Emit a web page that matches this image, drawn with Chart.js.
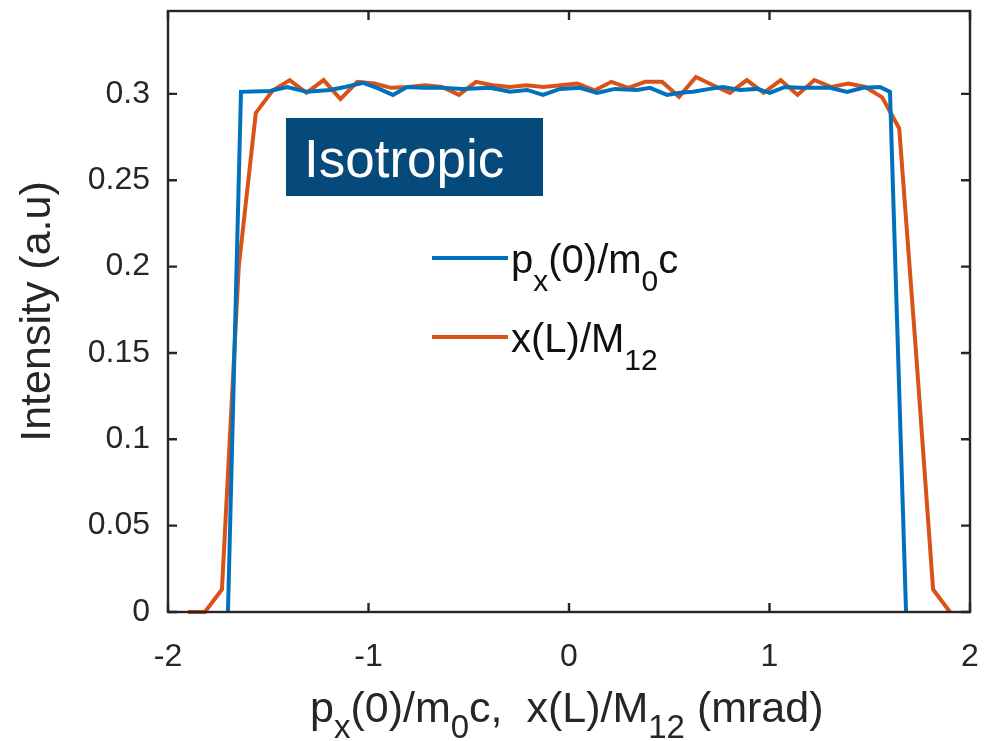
<!DOCTYPE html>
<html>
<head>
<meta charset="utf-8">
<script src="https://cdn.jsdelivr.net/npm/chart.js@4"></script>
<style>
  html, body { margin: 0; padding: 0; background: #fff; }
  #wrap { width: 993px; height: 741px; }
</style>
</head>
<body>
<div id="wrap"><canvas id="chart" width="993" height="741"></canvas></div>
<script>
// blue: p_x(0)/m0c
const blueX = [-1.701, -1.636, -1.491, -1.406, -1.307, -1.192, -1.117, -1.027, -0.958, -0.878,
  -0.808, -0.728, -0.643, -0.529, -0.394, -0.294, -0.209, -0.130, -0.045, 0.055,
  0.140, 0.229, 0.339, 0.404, 0.489, 0.554, 0.618, 0.703, 0.768, 0.853,
  0.938, 1.002, 1.077, 1.152, 1.217, 1.302, 1.387, 1.466, 1.551, 1.601, 1.681]
const blueY = [0, 0.3012, 0.3017, 0.304, 0.3012, 0.3023, 0.304, 0.3064, 0.3035, 0.2994,
  0.304, 0.3035, 0.3035, 0.3029, 0.3035, 0.3012, 0.3023, 0.2994, 0.3029, 0.3035,
  0.3006, 0.3029, 0.3023, 0.3035, 0.2994, 0.3006, 0.3012, 0.3029, 0.304, 0.3023,
  0.3029, 0.3006, 0.304, 0.3035, 0.3035, 0.3035, 0.3012, 0.3035, 0.304, 0.3012, 0]

// orange: x(L)/M12
const orangeX = [-1.900, -1.816, -1.731, -1.647, -1.562, -1.478, -1.393, -1.309, -1.224, -1.140,
  -1.056, -0.971, -0.887, -0.802, -0.718, -0.633, -0.549, -0.464, -0.380, -0.296,
  -0.211, -0.127, -0.042, 0.042, 0.127, 0.211, 0.296, 0.380, 0.464, 0.549,
  0.633, 0.718, 0.802, 0.887, 0.971, 1.056, 1.140, 1.224, 1.309, 1.393,
  1.478, 1.562, 1.647, 1.731, 1.816, 1.900]
const orangeY = [0, 0, 0.013, 0.2, 0.289, 0.302, 0.308, 0.3006, 0.308, 0.297,
  0.307, 0.306, 0.3035, 0.304, 0.305, 0.304, 0.2994, 0.307, 0.305, 0.304,
  0.305, 0.304, 0.305, 0.306, 0.302, 0.307, 0.3035, 0.307, 0.307, 0.2983,
  0.3098, 0.305, 0.3006, 0.308, 0.3006, 0.308, 0.2994, 0.308, 0.304, 0.306,
  0.304, 0.298, 0.28, 0.15, 0.013, 0]

const xTicks = [-2, -1, 0, 1, 2]
const yTicks = [0, 0.05, 0.1, 0.15, 0.2, 0.25, 0.3]

// label pieces: [text, isSubscript]
const blueLabel = [['p', 0], ['x', 1], ['(0)/m', 0], ['0', 1], ['c', 0]]
const orangeLabel = [['x(L)/M', 0], ['12', 1]]
const xTitle = [['p', 0], ['x', 1], ['(0)/m', 0], ['0', 1], ['c,  x(L)/M', 0], ['12', 1], [' (mrad)', 0]]
const yTitle = 'Intensity (a.u)'
const boxText = 'Isotropic'

const FONT = "'Liberation Sans', Arial, Helvetica, sans-serif"
const AXIS = '#262626'
const BLUE = '#0072BD'
const ORANGE = '#D95319'

function richText(ctx, parts, x, y, size, subSize, drop) {
  let cx = x
  parts.forEach(([txt, sub]) => {
    ctx.font = `${sub ? subSize : size}px ${FONT}`
    ctx.fillText(txt, cx, sub ? y + drop : y)
    cx += ctx.measureText(txt).width
  })
  return cx
}

const decor = {
  id: 'decor',
  afterDatasetsDraw(chart) {
    const ctx = chart.ctx
    const { left, right, top, bottom } = chart.chartArea
    const xs = chart.scales.x
    const ys = chart.scales.y
    ctx.save()

    // frame and inward ticks on all four sides
    ctx.strokeStyle = AXIS
    ctx.lineWidth = 2.4
    ctx.strokeRect(left, top, right - left, bottom - top)
    const tl = 9
    ctx.beginPath()
    xTicks.forEach((v) => {
      const px = xs.getPixelForValue(v)
      ctx.moveTo(px, bottom); ctx.lineTo(px, bottom - tl)
      ctx.moveTo(px, top); ctx.lineTo(px, top + tl)
    })
    yTicks.forEach((v) => {
      const py = ys.getPixelForValue(v)
      ctx.moveTo(left, py); ctx.lineTo(left + tl, py)
      ctx.moveTo(right, py); ctx.lineTo(right - tl, py)
    })
    ctx.stroke()

    // "Isotropic" box
    ctx.fillStyle = '#064A7C'
    ctx.fillRect(286, 118, 257, 78)
    ctx.fillStyle = '#ffffff'
    ctx.font = `53px ${FONT}`
    ctx.textBaseline = 'alphabetic'
    ctx.textAlign = 'left'
    ctx.fillText(boxText, 304, 177)

    // legend
    const rows = [[blueLabel, BLUE, 258], [orangeLabel, ORANGE, 337]]
    rows.forEach(([parts, color, ly]) => {
      ctx.strokeStyle = color
      ctx.lineWidth = 4
      ctx.beginPath()
      ctx.moveTo(432, ly); ctx.lineTo(508, ly)
      ctx.stroke()
      ctx.fillStyle = '#111111'
      richText(ctx, parts, 511, ly + 15, 40, 30, 18)
    })

    // x axis title
    ctx.fillStyle = AXIS
    richText(ctx, xTitle, 310, 722, 43, 33, 16)
    ctx.restore()
  },
}

new Chart(document.getElementById('chart').getContext('2d'), {
  type: 'line',
  data: {
    datasets: [
      {
        label: 'px(0)/m0c',
        data: blueX.map((x, i) => ({ x, y: blueY[i] })),
        borderColor: BLUE,
        borderWidth: 4,
        pointRadius: 0,
        tension: 0,
        clip: 6,
      },
      {
        label: 'x(L)/M12',
        data: orangeX.map((x, i) => ({ x, y: orangeY[i] })),
        borderColor: ORANGE,
        borderWidth: 4,
        pointRadius: 0,
        tension: 0,
        clip: 6,
      },
    ],
  },
  options: {
    responsive: false,
    devicePixelRatio: 1,
    animation: false,
    layout: { padding: { left: 0, top: 11, right: 23, bottom: 0 } },
    scales: {
      x: {
        type: 'linear',
        min: -2,
        max: 2,
        afterBuildTicks: (s) => { s.ticks = xTicks.map((v) => ({ value: v })) },
        afterFit: (s) => {
          s.height = 129
          s.paddingLeft = 0
          s.paddingRight = 0
        },
        grid: { display: false, drawTicks: false },
        border: { display: false },
        ticks: {
          padding: 26,
          color: AXIS,
          font: { family: FONT, size: 32 },
          callback: (v) => String(v),
        },
      },
      y: {
        min: 0,
        max: 0.348,
        afterBuildTicks: (s) => { s.ticks = yTicks.map((v) => ({ value: v })) },
        afterFit: (s) => {
          s.width = 168
          s.paddingTop = 0
          s.paddingBottom = 0
        },
        grid: { display: false, drawTicks: false },
        border: { display: false },
        ticks: {
          padding: 18,
          color: AXIS,
          font: { family: FONT, size: 32 },
          callback: (v) => String(+v.toFixed(2)),
        },
        title: {
          display: true,
          text: yTitle,
          color: AXIS,
          font: { family: FONT, size: 43 },
          padding: { top: 12, bottom: 0 },
        },
      },
    },
    plugins: {
      legend: { display: false },
      tooltip: { enabled: false },
    },
  },
  plugins: [decor],
})
</script>
</body>
</html>
